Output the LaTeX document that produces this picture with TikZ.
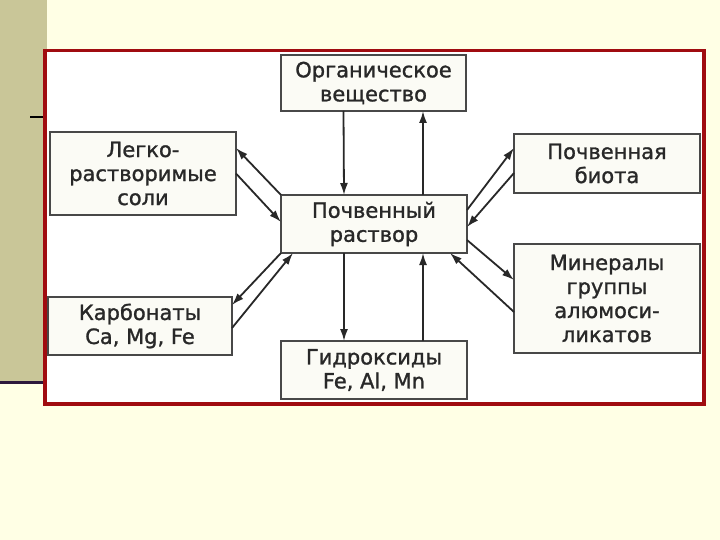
\documentclass[tikz,border=0pt]{standalone}
\usepackage{fontspec}
\newfontfamily\dvfont[FakeBold=1.2]{DejaVu Sans}
\usetikzlibrary{arrows.meta}
\definecolor{cream}{RGB}{255,255,229}
\definecolor{olive}{RGB}{201,198,152}
\definecolor{framered}{RGB}{160,12,16}
\definecolor{darkline}{RGB}{45,25,60}
\definecolor{boxfill}{RGB}{251,251,245}
\definecolor{ink}{RGB}{40,40,40}
\tikzset{
  stepbox/.style={draw=ink!85, line width=1.8pt, fill=boxfill, inner sep=0pt, outer sep=0pt,
    font=\dvfont\fontsize{21}{24}\selectfont, text=ink, align=center},
  arr/.style={draw=ink, line width=1.8pt, -{Latex[length=12pt,width=8pt]}}
}
\begin{document}
\begin{tikzpicture}[x=1pt,y=-1pt]
\useasboundingbox (0,0) rectangle (720,540);
\fill[cream] (0,0) rectangle (720,540);
\fill[olive] (0,0) rectangle (47,381);
\draw[darkline, line width=3pt] (0,382.5) -- (44,382.5);
\draw[black, line width=1.2pt] (30,117) -- (44,117);
\draw[framered, fill=white, line width=3.5pt] (45,50.5) rectangle (704,404);

\node[stepbox, minimum width=185pt, minimum height=56pt] (org) at (373.5,83) {Органическое\\вещество};
\node[stepbox, minimum width=186pt, minimum height=58pt] (ras) at (374,224) {Почвенный\\раствор};
\node[stepbox, minimum width=186pt, minimum height=58pt] (hyd) at (374,370) {Гидроксиды\\Fe, Al, Mn};
\node[stepbox, minimum width=186pt, minimum height=83pt] (leg) at (143,173.5) {Легко-\\растворимые\\соли};
\node[stepbox, minimum width=184pt, minimum height=58pt] (carb) at (140,326) {Карбонаты\\Ca, Mg, Fe};
\node[stepbox, minimum width=186pt, minimum height=59pt] (bio) at (607,163.5) {Почвенная\\биота};
\node[stepbox, minimum width=186pt, minimum height=109pt] (min) at (607,298.5) {Минералы\\группы\\алюмоси-\\ликатов};

% vertical
\draw[arr] ([xshift=-30pt]org.south) -- ([xshift=-30pt]ras.north);
\draw[arr] ([xshift=49pt]ras.north) -- ([xshift=49.5pt]org.south);
\draw[arr] ([xshift=-30pt]ras.south) -- ([xshift=-30pt]hyd.north);
\draw[arr] ([xshift=49pt]hyd.north) -- ([xshift=49pt]ras.south);

% upper left
\draw[arr] (ras.north west) -- ([yshift=25.5pt]leg.east);
\draw[arr] (leg.east) -- ([yshift=2pt]ras.west);
% lower left
\draw[arr] (ras.south west) -- ([yshift=21pt]carb.east);
\draw[arr] ([yshift=-2pt]carb.east) -- ([xshift=12pt]ras.south west);
% upper right
\draw[arr] ([yshift=14pt]ras.east) -- ([yshift=15.5pt]bio.west);
\draw[arr] ([yshift=-9.5pt]bio.west) -- ([yshift=-3pt]ras.east);
% lower right
\draw[arr] ([yshift=-16pt]ras.east) -- ([yshift=18.5pt]min.west);
\draw[arr] ([yshift=-13.5pt]min.west) -- ([xshift=-17pt]ras.south east);
\end{tikzpicture}
\end{document}
